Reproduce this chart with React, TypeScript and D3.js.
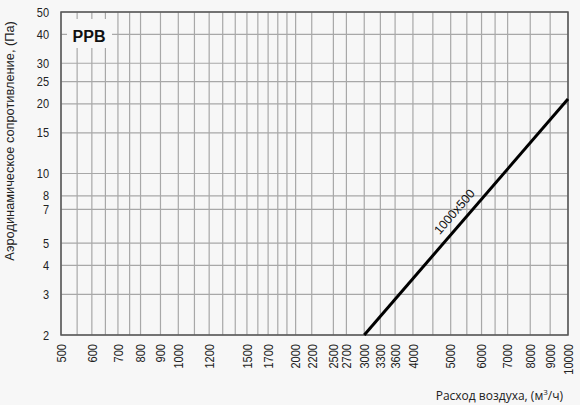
import * as d3 from 'd3';

// Airflow (m³/h) and pressure drop (Pa)
const xGrid = [500, 550, 600, 650, 700, 750, 800, 900, 1000, 1100, 1200, 1300, 1400, 1500, 1600, 1700, 1800, 1900, 2000, 2200, 2500, 2700, 3000, 3300, 3600, 4000, 4500, 5000, 5500, 6000, 6500, 7000, 8000, 9000, 10000];
const xLabels = [500, 600, 700, 800, 900, 1000, 1200, 1500, 1700, 2000, 2200, 2500, 2700, 3000, 3300, 3600, 4000, 5000, 6000, 7000, 8000, 9000, 10000];
const yTicks = [2, 3, 4, 5, 7, 8, 10, 15, 20, 25, 30, 40, 50];

const seriesName = '1000x500';
const flow = [3000, 10000];
const pressure = [2, 21];

const width = 580;
const height = 405;
const margin = { top: 12, right: 12, bottom: 70, left: 61 };

export default function App() {
  const x = d3.scaleLog()
    .domain([500, 10000])
    .range([margin.left, width - margin.right]);
  const y = d3.scaleLog()
    .domain([2, 50])
    .range([height - margin.bottom, margin.top]);

  const pts = flow.map((f, i) => [f, pressure[i]] as [number, number]);
  const line = d3.line<[number, number]>()
    .x(d => x(d[0]))
    .y(d => y(d[1]));

  // label position / angle along the curve
  const lf = 5400;
  const k = Math.log(pressure[1] / pressure[0]) / Math.log(flow[1] / flow[0]);
  const lp = pressure[0] * Math.pow(lf / flow[0], k);
  const ang = Math.atan2(y(pressure[1]) - y(pressure[0]), x(flow[1]) - x(flow[0])) * 180 / Math.PI;

  const x0 = margin.left, x1 = width - margin.right;
  const y0 = margin.top, y1 = height - margin.bottom;

  return (
    <svg width={width} height={height}
      style={{ position: 'absolute', left: 0, top: 0, fontFamily: '"Liberation Sans", Arial, sans-serif' }}>
      <rect width={width} height={height} fill="#f7f7f7" />

      {/* grid */}
      {xGrid.map(v => (
        <line key={'gx' + v} x1={x(v)} x2={x(v)} y1={y0} y2={y1} stroke="#a8a8a8" strokeWidth={1.2} />
      ))}
      {yTicks.map(v => (
        <line key={'gy' + v} x1={x0} x2={x1} y1={y(v)} y2={y(v)} stroke="#a8a8a8" strokeWidth={1.2} />
      ))}

      {/* PPB box */}
      <rect x={67} y={19} width={45} height={29} fill="#f7f7f7" />
      <text x={89} y={41.5} textAnchor="middle" fontSize={16} fontWeight="bold" fill="#111">PPB</text>

      {/* frame */}
      <rect x={x0} y={y0} width={x1 - x0} height={y1 - y0} fill="none" stroke="#555" strokeWidth={1.5} />

      {/* curve */}
      <path d={line(pts) ?? ''} fill="none" stroke="#000" strokeWidth={3} />
      <text transform={`translate(${x(lf)},${y(lp)}) rotate(${ang}) translate(0,-8)`}
        textAnchor="middle" fontSize={12.5} fill="#111">{seriesName}</text>

      {/* y ticks */}
      {yTicks.map(v => (
        <text key={'ty' + v} transform={`translate(49,${y(v) + 4.5}) scale(0.88,1)`} textAnchor="end"
          fontSize={12.5} fill="#222">{v}</text>
      ))}

      {/* x ticks */}
      {xLabels.map(v => (
        <text key={'tx' + v} transform={`translate(${x(v) + 4.8},${y1 + 9}) rotate(-90) scale(0.82,1)`}
          textAnchor="end" fontSize={13.5} fill="#222">{v}</text>
      ))}

      {/* axis titles */}
      <text transform={`translate(14,141) rotate(-90)`} textAnchor="middle" fontSize={12.8} fill="#222">
        Аэродинамическое сопротивление, (Па)
      </text>
      <text x={563} y={400} textAnchor="end" fontSize={12} fill="#222"
        style={{ fontFamily: '"Open Sans", sans-serif' }}>
        Расход воздуха, (м<tspan dy={-5} fontSize={8}>3</tspan><tspan dy={5}>/ч)</tspan>
      </text>
    </svg>
  );
}
